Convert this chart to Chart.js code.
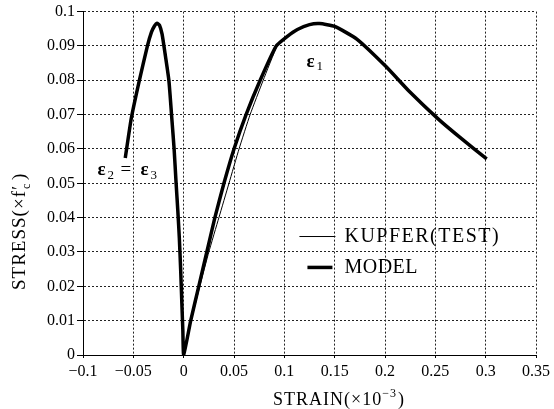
<!DOCTYPE html>
<html>
<head>
<meta charset="utf-8">
<script src="https://cdn.jsdelivr.net/npm/chart.js@4/dist/chart.umd.min.js"></script>
<style>
  html, body { margin: 0; padding: 0; background: #fff; }
  #wrap { width: 554px; height: 409px; position: relative; }
</style>
</head>
<body>
<div id="wrap"><canvas id="stressChart"></canvas></div>
<script>
// strain (x10^-3) and stress (x f'c)
var modelStrain = [-0.058, -0.052, -0.044, -0.036, -0.032, -0.029, -0.0265, -0.024, -0.0215, -0.0196, -0.0147, -0.0118, -0.0095, -0.0075, -0.0058, -0.0043, -0.003, -0.0018, -0.0008, 0,
    0.007, 0.015, 0.023, 0.031, 0.040, 0.050, 0.062, 0.076, 0.092, 0.103, 0.113, 0.125, 0.135, 0.150, 0.172, 0.201, 0.224, 0.253, 0.276, 0.301];
var modelStress = [0.0574, 0.069, 0.080, 0.090, 0.094, 0.0958, 0.0966, 0.096, 0.0935, 0.090, 0.080, 0.069, 0.060, 0.050, 0.042, 0.034, 0.025, 0.015, 0.007, 0,
    0.010, 0.020, 0.030, 0.040, 0.050, 0.060, 0.070, 0.080, 0.090, 0.0928, 0.0948, 0.0962, 0.0965, 0.0957, 0.092, 0.084, 0.0768, 0.0687, 0.063, 0.0571];

var kupferStrain = [-0.058, -0.052, -0.044, -0.036, -0.032, -0.029, -0.0265, -0.024, -0.0215, -0.019, -0.0142, -0.0113, -0.0090, -0.0070, -0.0053, -0.0039, -0.0027, -0.0016, -0.0007, 0,
    0.0075, 0.016, 0.025, 0.035, 0.045, 0.055, 0.066, 0.079, 0.093, 0.103, 0.113, 0.125, 0.135, 0.150, 0.172, 0.201, 0.224, 0.253, 0.276, 0.301];
var kupferStress = [0.0574, 0.069, 0.080, 0.090, 0.094, 0.0958, 0.0966, 0.096, 0.0935, 0.090, 0.080, 0.069, 0.060, 0.050, 0.042, 0.034, 0.025, 0.015, 0.007, 0,
    0.010, 0.020, 0.030, 0.040, 0.050, 0.060, 0.070, 0.080, 0.090, 0.0928, 0.0948, 0.0962, 0.0965, 0.0957, 0.092, 0.084, 0.0768, 0.0687, 0.063, 0.0571];

var strainTicks = [-0.1, -0.05, 0, 0.05, 0.1, 0.15, 0.2, 0.25, 0.3, 0.35];
var stressTicks = [0, 0.01, 0.02, 0.03, 0.04, 0.05, 0.06, 0.07, 0.08, 0.09, 0.1];

var seriesNames = ["KUPFER(TEST)", "MODEL"];

function toPoints(xs, ys) {
    let pts = [];
    xs.forEach(function (x, i) { pts.push({ x: x, y: ys[i] }); });
    return pts;
}

function fmt(v) {
    let s = parseFloat(v.toFixed(3)).toString();
    return s.replace('-', '\u2212');
}

var serif = "'Liberation Serif', 'DejaVu Serif', serif";

// labels, legend and axis titles drawn on top
var annotations = {
    id: 'annotations',
    afterDraw: function (chart) {
        let ctx = chart.ctx;
        let xs = chart.scales.x, ys = chart.scales.y;
        ctx.save();
        ctx.fillStyle = '#000';
        ctx.strokeStyle = '#000';

        // epsilon labels
        ctx.textBaseline = 'alphabetic';
        ctx.textAlign = 'left';
        let e1x = xs.getPixelForValue(0.122), e1y = ys.getPixelForValue(0.0838);
        ctx.font = 'bold 19px ' + serif;
        ctx.fillText('\u03b5', e1x, e1y);
        ctx.font = '13px ' + serif;
        ctx.fillText('1', e1x + 10, e1y + 3);

        let e2x = xs.getPixelForValue(-0.0855), e2y = ys.getPixelForValue(0.0525);
        ctx.font = 'bold 19px ' + serif;
        ctx.fillText('\u03b5', e2x, e2y);
        ctx.font = '13px ' + serif;
        ctx.fillText('2', e2x + 10, e2y + 4);
        ctx.font = '19px ' + serif;
        ctx.fillText('=', e2x + 23, e2y);
        ctx.font = 'bold 19px ' + serif;
        ctx.fillText('\u03b5', e2x + 43, e2y);
        ctx.font = '13px ' + serif;
        ctx.fillText('3', e2x + 53, e2y + 4);

        // legend
        let lx = xs.getPixelForValue(0.115);
        let ly1 = ys.getPixelForValue(0.0345), ly2 = ys.getPixelForValue(0.0255);
        ctx.lineWidth = 1;
        ctx.beginPath(); ctx.moveTo(lx, ly1); ctx.lineTo(lx + 36, ly1); ctx.stroke();
        ctx.lineWidth = 3.5;
        ctx.beginPath(); ctx.moveTo(lx + 8, ly2); ctx.lineTo(lx + 33, ly2); ctx.stroke();
        ctx.font = '20px ' + serif;
        ctx.textBaseline = 'middle';
        ctx.letterSpacing = '1.5px';
        ctx.fillText(seriesNames[0], lx + 45, ly1);
        ctx.letterSpacing = '0.5px';
        ctx.fillText(seriesNames[1], lx + 45, ly2);
        ctx.letterSpacing = '0px';

        // x title
        ctx.textAlign = 'left';
        ctx.textBaseline = 'alphabetic';
        ctx.font = '18px ' + serif;
        ctx.letterSpacing = '1px';
        let tx = 273, ty = 405;
        ctx.fillText('STRAIN(\u00d710', tx, ty);
        let w = ctx.measureText('STRAIN(\u00d710').width;
        ctx.font = '12px ' + serif;
        ctx.fillText('\u22123', tx + w, ty - 8);
        let w2 = ctx.measureText('\u22123').width;
        ctx.font = '18px ' + serif;
        ctx.fillText(')', tx + w + w2 + 1, ty);

        // y title
        ctx.translate(25, 290);
        ctx.rotate(-Math.PI / 2);
        ctx.font = '19px ' + serif;
        ctx.letterSpacing = '1px';
        ctx.fillText('STRESS(\u00d7f\u2032', 0, 0);
        let w3 = ctx.measureText('STRESS(\u00d7f\u2032').width;
        ctx.font = '12px ' + serif;
        ctx.fillText('c', w3 - 4, 5);
        ctx.font = '19px ' + serif;
        ctx.fillText(')', w3 + 5, 0);
        ctx.restore();
    }
};

new Chart(document.getElementById('stressChart').getContext('2d'), {
    type: 'scatter',
    data: {
        datasets: [{
            label: seriesNames[0],
            data: toPoints(kupferStrain, kupferStress),
            showLine: true,
            borderColor: '#000',
            borderWidth: 1,
            pointRadius: 0,
            tension: 0.15
        }, {
            label: seriesNames[1],
            data: toPoints(modelStrain, modelStress),
            showLine: true,
            borderColor: '#000',
            borderWidth: 3.5,
            pointRadius: 0,
            tension: 0.15
        }]
    },
    options: {
        responsive: true,
        maintainAspectRatio: false,
        animation: false,
        layout: { padding: { left: 0, right: 12, top: 10, bottom: 0 } },
        plugins: {
            legend: { display: false },
            tooltip: { enabled: false }
        },
        scales: {
            x: {
                type: 'linear',
                min: -0.1,
                max: 0.35,
                afterBuildTicks: function (scale) {
                    scale.ticks = strainTicks.map(function (v) { return { value: v }; });
                },
                afterFit: function (scale) { scale.height = 54; },
                grid: { color: '#222', lineWidth: 1, drawTicks: true, tickLength: 3, tickColor: '#000' },
                // in v4 border.dash is what dashes the grid lines
                border: { display: true, color: '#000', dash: [2, 2] },
                ticks: {
                    color: '#000',
                    padding: 4,
                    maxRotation: 0,
                    autoSkip: false,
                    font: { family: serif, size: 16 },
                    callback: function (v) { return fmt(v); }
                }
            },
            y: {
                type: 'linear',
                min: 0,
                max: 0.1,
                afterBuildTicks: function (scale) {
                    scale.ticks = stressTicks.map(function (v) { return { value: v }; });
                },
                afterFit: function (scale) { scale.width = 83; },
                grid: { color: '#222', lineWidth: 1, drawTicks: true, tickLength: 6, tickColor: '#000' },
                border: { display: true, color: '#000', dash: [2, 2] },
                ticks: {
                    color: '#000',
                    padding: 2,
                    autoSkip: false,
                    font: { family: serif, size: 16 },
                    callback: function (v) { return fmt(v); }
                }
            }
        }
    },
    plugins: [annotations]
});
</script>
</body>
</html>
